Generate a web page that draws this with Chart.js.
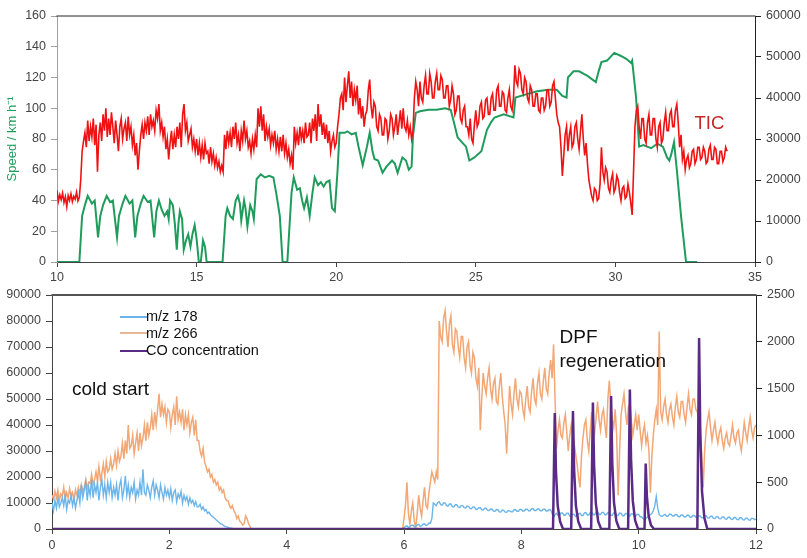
<!DOCTYPE html>
<html><head><meta charset="utf-8">
<script src="https://cdn.jsdelivr.net/npm/chart.js@4.4.0/dist/chart.umd.min.js"></script>
<style>
html,body{margin:0;padding:0;background:#fff;}
#wrap{position:relative;width:807px;height:558px;overflow:hidden;background:#fff;font-family:"Liberation Sans",Arial,sans-serif;}
canvas{position:absolute;left:0;}
.t{position:absolute;white-space:nowrap;line-height:1;}
.lg{position:absolute;height:2px;width:27px;left:120px;}
</style></head><body>
<div id="wrap">
<canvas id="topChart" width="807" height="282" style="top:0px"></canvas>
<canvas id="botChart" width="807" height="276" style="top:282px"></canvas>
<div class="t" style="left:694.5px;top:114.3px;font-size:18.6px;color:#c62828">TIC</div>
<div class="t" style="left:72px;top:379px;font-size:19px;color:#111">cold start</div>
<div class="t" style="left:559.5px;top:327px;font-size:19px;color:#111">DPF</div>
<div class="t" style="left:559.5px;top:351px;font-size:19px;color:#111">regeneration</div>
<div class="lg" style="top:316px;background:#6bb5ea"></div>
<div class="lg" style="top:332px;background:#e8b896"></div>
<div class="lg" style="top:349.5px;background:#5a2a86"></div>
<div class="t" style="left:146px;top:309.2px;font-size:14.5px;color:#111">m/z 178</div>
<div class="t" style="left:146px;top:325.7px;font-size:14.5px;color:#111">m/z 266</div>
<div class="t" style="left:146px;top:342.7px;font-size:14.5px;color:#111">CO concentration</div>
</div>
<script>
// ---------- Top panel data ----------
const topXTicks = [10, 15, 20, 25, 30, 35];
const speedTicks = [0, 20, 40, 60, 80, 100, 120, 140, 160];
const ticTicks = [0, 10000, 20000, 30000, 40000, 50000, 60000];

const speedTimes = [10,10.8,10.9,11.0,11.1,11.25,11.35,11.47,11.55,11.65,11.78,11.9,12.0,12.15,12.22,12.35,12.45,12.6,12.7,12.8,12.88,13.0,13.1,13.25,13.35,13.48,13.56,13.65,13.75,13.85,13.95,14.0,14.05,14.15,14.22,14.29,14.35,14.4,14.48,14.54,14.62,14.7,14.78,14.85,14.93,15.0,15.08,15.15,15.23,15.3,15.36,15.93,16.04,16.1,16.2,16.3,16.4,16.48,16.55,16.6,16.7,16.75,16.82,16.92,17.0,17.05,17.15,17.3,17.45,17.6,17.75,17.85,17.98,18.08,18.25,18.4,18.48,18.6,18.7,18.78,18.85,18.95,19.05,19.15,19.23,19.35,19.45,19.55,19.65,19.76,19.85,19.95,20.05,20.12,20.3,20.4,20.55,20.7,20.8,20.95,21.1,21.2,21.3,21.37,21.5,21.66,21.8,22.0,22.1,22.2,22.37,22.5,22.6,22.7,22.75,22.85,23.0,23.3,23.6,23.9,24.1,24.2,24.35,24.5,24.65,24.77,24.95,25.2,25.4,25.55,25.67,26.0,26.35,26.42,26.8,27.2,27.6,27.9,28.1,28.25,28.3,28.5,28.7,29.0,29.3,29.4,29.5,29.7,29.96,30.2,30.4,30.56,30.6,30.74,30.85,31.0,31.28,31.5,31.7,31.85,31.93,32.0,32.1,32.2,32.35,32.53,32.93];
const speedValues = [0,0,30,37,43,38,40,16,30,37,43,39,40,16,30,38,43,38,40,16,30,38,43,39,40,16,33,40,34,30,33,28,40,37,25,8,25,33,28,8,14,18,10,18,24,15,0,0,14,10,0,0,30,35,30,28,40,43,38,27,40,35,23,37,33,28,54,57,55,56,55,45,30,0,0,45,55,47,48,40,35,42,30,45,55,50,52,49,52,53,35,33,60,84,84,85,83,84,75,63,75,84,72,67,66,58,62,66,64,58,68,66,60,62,82,97,98,99,99,100,99,92,81,78,75,66,68,72,86,91,94,96,94,107,109,111,112,112,108,107,120,124,124,121,117,124,130,131,136,134,132,129.5,131,107,75,76,74,77,75,68,66,70,78,60,30,0,0];

// TIC in thousands, sampled every 0.05 min from 10.00 min (one line = one minute)
const ticStart = 10.0, ticStep = 0.05;
const ticThousands = [
 17.5,14.8,16.4,15.2,16.8,14.5,15.9,13.5,16.2,15.0,16.6,14.7,16.0,15.3,17.0,14.9,15.8,20,27,29.5,
 31.5,28,34.5,29.5,33,30.5,35,28.5,33.5,22,31,34,29.5,36,32,37.5,30.5,35,31,36.5,
 33,29,34.5,31,27,33,35,30,32.5,34,29.5,35.5,31,33,28.5,31,26,29,22.5,27,
 31,33.5,30,34,32,35.5,31,36,33,34.5,32,37,35,38.5,32,34,30.5,33,27.5,30,
 25,29,32,27.5,31,28,33,30,34,28,36,38.5,32,34,29.5,31,32.5,28,30,27,
 30,26,29,25.5,28.5,25,29,26.5,27,24,28,24.5,26.5,23.5,25.5,23,24.5,22,23.5,22,
 31,27.5,32,29,31.5,28,33,30,34,29,31,27,32,29.5,34.5,30,32,28,29.5,26.5,
 30,27.5,31,28,37.5,33,38,32,36,29.5,33,30.5,32.5,28.5,31,29,32,27.5,30,27,
 30.5,27,31,26.5,29,25.5,27.5,24,26,22.5,33,29,31.5,28.5,33,30,32,29,34,30.5,
 31,34,29,35,32,36,29.5,38.5,33,36,31,34,30,33.5,29,32,27,29.5,31,28,
 29,33,36,40,41,37,45,39,43,46.5,40,44,38,42,39.5,43,36,40,35,38,
 33,36,37,42,44.5,38,35,39,38,33,32,36,35,31,31,35,34.5,30,32,36,
 35,31,33,36,31,34,37,32.5,37.5,33,32,34.5,31,33,30,32,40,44,42,38,
 44,40,39,43,45.5,41,41,46,44,40,40,44,46,42,42,45.5,44.5,40,40,43,
 43,38,39.5,43,41,36,37,40.5,40.5,35,34,37,38,33,33,31,35,30,29,33.5,
 37,33,34,38,39,35,35.5,39.5,40,36,36,40,41,37,37,42,43,38,38,41.5,
 41,37,36.5,40,42,38,37,40,48,44,43,47,46,42,41,45,44,40,39,43,
 42,38,38,41,41,37,36.5,40,40,37,38,42,42,38,39,43,44,40,36,34,
 33,28,21,26,31,33,27,31,33,28,29,33,34,30,27.5,32,36,30,26,29,
 24,20,18,16,15,18,17.5,15,15.5,19,28,22,20,23,22,18,17,20,21.5,17,
 18,21,20,17,15,18,18.5,15.5,16,19,17,14.5,11.5,22,33,37,38,33,30,35,
 35,30,29,34,36,31,31,35,35,30,28,33,34,29,30,34,36.5,32,32,36,
 37,33,33,37,38.5,34,28,31,25,27,22.5,25,26,23,24,27,27.5,24,25,28,
 28,25,25.5,28,27,24,24.5,27.5,28.5,25,25,28,27.5,24,24,27,27,24.5,25.5,28,
 27];

// ---------- Bottom panel data ----------
const botXTicks = [0, 2, 4, 6, 8, 10, 12];
const ionTicks = [0,10000,20000,30000,40000,50000,60000,70000,80000,90000];
const coTicks = [0, 500, 1000, 1500, 2000, 2500];

// ion intensities in thousands, every 0.025 min from 0 (one line = half a minute)
const msStart = 0, msStep = 0.025;
const mz178 = [
 10,7,11,8,12,8.5,10,12,9,13,7.5,11,10,13,9,12,8,11,14,10,
 17,12,15,18,11,16,13,19,12,17,14,18,11,16,19,13,17,12,18,14,
 18,12,16,13,17,11,16.5,19,12,15,20.5,13,17,12,16,14,18,11.5,15,13,
 18,13,23,14,13,17,15,12,16,18.5,13,17,15,12,17,14,11.5,16,13,15,
 12,15.5,11,14,15,10.5,13.5,12,14.5,10,13,11,12.5,9.5,12,10,11,9,10.5,8.5,
 8.5,9.5,7.5,8.5,7,7.5,6,6.5,5.5,5,4.5,4,3.5,3,2.5,2,1.8,1.3,1,0.8,
 0.6,0.4,0.3,0.2,0.1,0,0,0,0,0,0,0,0,0,0,0,0,0,0,0,
 0,0,0,0,0,0,0,0,0,0,0,0,0,0,0,0,0,0,0,0,
 0,0,0,0,0,0,0,0,0,0,0,0,0,0,0,0,0,0,0,0,
 0,0,0,0,0,0,0,0,0,0,0,0,0,0,0,0,0,0,0,0,
 0,0,0,0,0,0,0,0,0,0,0,0,0,0,0,0,0,0,0,0,
 0,0,0,0,0,0,0,0,0,0,0,0,0,0,0,0,0,0,0,0,
 0.5,1,1.2,0.6,0.8,1.4,1.5,0.9,1,1.6,1.8,1.1,1.2,1.9,2,1.4,1.6,2.3,2.2,4,
 10,9.5,9,10.2,10.5,9.4,9.2,10,10,9,8.8,9.6,9.6,8.6,8.5,9.3,9.3,8.4,8.3,9,
 9,8.2,8.1,8.8,8.7,7.9,7.8,8.5,8.4,7.6,7.5,8.2,8.2,7.4,7.3,8,8,7.2,7.1,7.7,
 7.6,6.9,6.8,7.5,7.4,6.6,6.5,7.3,7.2,6.5,6.4,7.1,7,6.6,6.6,7.4,7.4,6.8,6.8,7.5,
 7.5,6.9,6.9,7.6,7.6,7,7,7.8,7.8,7.1,7.1,7.7,7.7,7,7,7.6,7.6,6.9,6.9,7.5,
 7.4,6,4.5,5.5,6,5.2,5,6.2,6.2,5.3,5.3,6.1,6.1,5,5,5.7,5.6,4.8,4.8,5.8,
 6,5.2,5.2,6.2,6.3,5.4,5.4,6.4,6.5,5.5,5.5,6.5,6.6,5.6,5.6,6.4,6.4,5.5,5.5,6.3,
 6.2,5.3,5.3,6.2,6.1,5.2,5.2,6.1,6,5.1,5.1,6,5.9,5,5,5.9,5.8,4.9,4.9,5.7,
 5.6,4.7,4.7,4,3.5,4,4.5,5,5.5,6,7,9,12.5,8,5.5,5,4.8,5.3,5.6,4.9,
 4.9,5.7,5.7,5,5,5.6,5.5,4.8,4.7,5.4,5.4,4.7,4.6,5.3,5.3,4.6,4.5,5.2,5.2,4.5,
 4.4,5,5,4.3,4.3,5.1,5.1,4.3,4.2,4.9,4.9,4.1,4,4.7,4.7,4,3.9,4.6,4.6,3.9,
 3.8,4.5,4.5,3.8,3.7,4.4,4.4,3.7,3.6,4.3,4.3,3.6,3.5,4.2,4.2,3.5,3.4,4.1,4.1,3.6,
 3.8];
const mz266 = [
 13,11.5,14.5,12,15,11,13.5,12.5,16,11.5,14,12,15.5,12.5,14,11,15,13,16,13.5,
 17,14.5,16,19,15.5,18,17.5,21,17,19,22,18.5,24,19,21.5,25,20,26,22,23,
 27,23,25,29,24.5,30,26,28,33,27,34,29,40,31,32,36,29,33,37,30,
 37,32,35,40,34,41,36,39,44,38,45,40,46,52,43,48,44,47,41,46,
 45,39,44,47,40,51,42,45,41,46,38,44,40,44,37,41,43,36,42,34,
 34,30,28,31,26,24,22,23,20,21,18,19,17,18,15,16,14,15,12,11,
 11,9,8,9,7,6,4,5,3,2.5,1.5,2,5,4,2,1,0,0,0,0,
 0,0,0,0,0,0,0,0,0,0,0,0,0,0,0,0,0,0,0,0,
 0,0,0,0,0,0,0,0,0,0,0,0,0,0,0,0,0,0,0,0,
 0,0,0,0,0,0,0,0,0,0,0,0,0,0,0,0,0,0,0,0,
 0,0,0,0,0,0,0,0,0,0,0,0,0,0,0,0,0,0,0,0,
 0,0,0,0,0,0,0,0,0,0,0,0,0,0,0,0,0,0,0,0,
 4,9,18,6,2,7,10,3,0.5,6,13,8,5,11,16,9,8,14,18,22,
 20,18,22,19,80,74,72,81,84,76,70,79,82,71,68,77,76,70,66,74,
 74,66,62,70,72,63,60,68,66,58,55,62,38,50,60,55,52,58,62,54,
 50,56,58,49,48,55,60,51,45,40,29,42,55,48,44,52,58,50,47,53,
 52,46,43,50,55,47,45,53,58,50,48,56,60,52,50,57,62,54,52,60,
 65,58,71,50,31,38,42,36,35,41,44,37,30,36,40,35,33,29,25,20,
 16,28,35,40,42,34,30,38,45,40,37,43,49,42,38,44,46,40,35,50,
 57,48,42,39,46,36,13,30,44,48,52,45,40,47,48,42,36,40,44,38,
 44,38,32,37,40,33,36,30,14,28,36,42,46,40,76,45,42,47,50,44,
 41,46,48,43,40,47,51,45,43,49,49,44,41,47,52,46,44,50,50,46,
 45,42,40,28,16,30,38,42,45,39,34,38,41,36,33,37,39,34,31,35,
 37,33,32,36,40,35,33,37,38,33,30,35,41,37,34,39,43,38,35,39,
 40];

// CO concentration peaks (right axis)
const coTimes = [0,8.54,8.57,8.59,8.62,8.66,8.71,8.85,8.88,8.90,8.93,8.97,9.02,9.19,9.22,9.24,9.27,9.31,9.36,9.50,9.53,9.55,9.58,9.62,9.67,9.82,9.85,9.87,9.90,9.94,9.99,10.10,10.12,10.14,10.17,10.21,10.26,11.00,11.03,11.05,11.08,11.12,11.17,12];
const coValues = [0,0,1240,620,250,80,0,0,1260,630,250,80,0,0,1350,680,270,80,0,0,1420,710,280,85,0,0,1490,750,300,90,0,0,700,350,140,40,0,0,2040,1020,400,120,0,0];

// ---------- Build ----------
const FONT = 'Liberation Sans';
const speedData = speedTimes.map((t,i)=>({x:t, y:speedValues[i]}));
const ticData = ticThousands.map((v,i)=>({x:+(ticStart+i*ticStep).toFixed(3), y:v*1000}));
const m178Data = mz178.map((v,i)=>({x:+(msStart+i*msStep).toFixed(3), y:v*1000}));
const m266Data = mz266.map((v,i)=>({x:+(msStart+i*msStep).toFixed(3), y:v*1000}));
const coData = coTimes.map((t,i)=>({x:t, y:coValues[i]}));

const frameTop = {
  id:'frameTop',
  afterDatasetsDraw(chart, args, opts){
    const {ctx, chartArea:a} = chart;
    ctx.save();
    ctx.strokeStyle = opts.color; ctx.lineWidth = opts.width;
    ctx.beginPath(); ctx.moveTo(a.left-0.5, a.top); ctx.lineTo(a.right+0.5, a.top); ctx.stroke();
    ctx.restore();
  }
};
function fixW(w){ return s => { s.width = w; }; }
function fixH(h){ return s => { s.height = h; }; }
function tickOpts(list, extra){
  return Object.assign({
    font:{family:FONT, size:12.5}, color:'#444', padding:5,
    callback: v => list.includes(v) ? String(v) : null
  }, extra||{});
}
function useTicks(list){ return s => { s.ticks = list.map(v=>({value:v})); }; }

new Chart(document.getElementById('topChart'), {
  type:'line',
  data:{datasets:[
    {label:'TIC', data:ticData, yAxisID:'y2', borderColor:'#f01212', borderWidth:1.6, pointRadius:0, tension:0},
    {label:'Speed', data:speedData, yAxisID:'y', borderColor:'#1f9c5c', borderWidth:2, pointRadius:0, tension:0}
  ]},
  options:{
    responsive:false, animation:false, devicePixelRatio:1,
    layout:{padding:{top:16,left:0,right:0,bottom:0}},
    plugins:{legend:{display:false}, tooltip:{enabled:false}, frameTop:{color:'#222', width:1}},
    scales:{
      x:{type:'linear', min:10, max:35, afterBuildTicks:useTicks(topXTicks), afterFit:fixH(20),
         grid:{drawOnChartArea:false, tickLength:5, color:'#444'}, border:{color:'#444'},
         ticks:tickOpts(topXTicks,{padding:3, maxRotation:0})},
      y:{position:'left', min:0, max:160, afterBuildTicks:useTicks(speedTicks), afterFit:fixW(57),
         grid:{drawOnChartArea:false, tickLength:6, color:'#a0a0a0'}, border:{color:'#a0a0a0'},
         ticks:tickOpts(speedTicks),
         title:{display:true, text:'Speed / km h\u207B\u00B9', color:'#1f9c5c', font:{family:FONT, size:13}, padding:{top:5,bottom:0}}},
      y2:{position:'right', min:0, max:60000, afterBuildTicks:useTicks(ticTicks), afterFit:fixW(52),
         grid:{drawOnChartArea:false, tickLength:6, color:'#222'}, border:{color:'#222'},
         ticks:tickOpts(ticTicks)}
    }
  },
  plugins:[frameTop]
});

new Chart(document.getElementById('botChart'), {
  type:'line',
  data:{datasets:[
    {label:'m/z 178', data:m178Data, yAxisID:'y', borderColor:'#6bb5ea', borderWidth:1.4, pointRadius:0, tension:0, order:1},
    {label:'m/z 266', data:m266Data, yAxisID:'y', borderColor:'#f2a775', borderWidth:1.5, pointRadius:0, tension:0, order:2},
    {label:'CO concentration', data:coData, yAxisID:'y2', borderColor:'#5a2a86', borderWidth:2.5, pointRadius:0, tension:0, order:0}
  ]},
  options:{
    responsive:false, animation:false, devicePixelRatio:1,
    layout:{padding:{top:13,left:0,right:0,bottom:0}},
    plugins:{legend:{display:false}, tooltip:{enabled:false}, frameTop:{color:'#555', width:2}},
    scales:{
      x:{type:'linear', min:0, max:12, afterBuildTicks:useTicks(botXTicks), afterFit:fixH(29),
         grid:{drawOnChartArea:false, tickLength:5, color:'#444'}, border:{color:'#444'},
         ticks:tickOpts(botXTicks,{padding:4, maxRotation:0})},
      y:{position:'left', min:0, max:90000, afterBuildTicks:useTicks(ionTicks), afterFit:fixW(52),
         grid:{drawOnChartArea:false, tickLength:6, color:'#444'}, border:{color:'#444'},
         ticks:tickOpts(ionTicks)},
      y2:{position:'right', min:0, max:2500, afterBuildTicks:useTicks(coTicks), afterFit:fixW(51),
         grid:{drawOnChartArea:false, tickLength:6, color:'#222'}, border:{color:'#222'},
         ticks:tickOpts(coTicks)}
    }
  },
  plugins:[frameTop]
});
</script>
</body></html>
